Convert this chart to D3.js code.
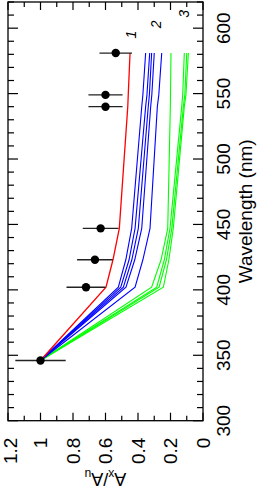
<!DOCTYPE html>
<html><head><meta charset="utf-8">
<script src="https://cdn.jsdelivr.net/npm/d3@7"></script>
<style>body{margin:0;background:#fff}svg{display:block}text{font-family:"Liberation Sans",Arial,sans-serif}</style>
</head><body>
<svg id="c" width="259" height="497"></svg>
<script>
// Observations: wavelength (nm), A_x/A_u, error
const obsWave = [346, 402, 423, 447, 540, 549, 581];
const obsVal  = [1.0, 0.72, 0.665, 0.63, 0.60, 0.60, 0.537];
const obsErr  = [0.155, 0.12, 0.11, 0.11, 0.105, 0.105, 0.10];
// Model curves sampled at band wavelengths
const modelWave = [346, 402, 423, 447, 540, 549, 581];
const redCurve = [1.0, 0.597, 0.554, 0.515, 0.463, 0.46, 0.449];
const blueCurves = [
  [1.0, 0.521, 0.475, 0.439, 0.377, 0.370, 0.353],
  [1.0, 0.506, 0.455, 0.418, 0.353, 0.345, 0.328],
  [1.0, 0.490, 0.438, 0.398, 0.337, 0.330, 0.316],
  [1.0, 0.474, 0.420, 0.377, 0.322, 0.315, 0.300],
  [1.0, 0.418, 0.370, 0.326, 0.281, 0.272, 0.254]
];
const greenCurves = [
  [1.0, 0.316, 0.258, 0.217, 0.201, 0.200, 0.197],
  [1.0, 0.285, 0.238, 0.203, 0.131, 0.125, 0.115],
  [1.0, 0.270, 0.225, 0.192, 0.121, 0.112, 0.100],
  [1.0, 0.244, 0.210, 0.183, 0.115, 0.105, 0.090]
];
const groupLabels = ["1", "2", "3"];
const labelPos = [[595, 0.445], [603, 0.29], [611, 0.118]]; // wavelength, value
const valTicks = [1.2, 1.0, 0.8, 0.6, 0.4, 0.2, 0];
const valTickLabels = ["1.2", "1", "0.8", "0.6", "0.4", "0.2", "0"];
const waveTicks = [300, 350, 400, 450, 500, 550, 600];

const svg = d3.select("#c");
const L = 8, R = 203, T = 2, B = 420.7;
// Rotated chart: value on horizontal (1.2 left → 0 right), wavelength vertical
const x = d3.scaleLinear().domain([1.2, 0]).range([L, R]);
const y = d3.scaleLinear().domain([300, 620]).range([B, T]);

const g = svg.append("g");
const fs = 19;

const vMinor = d3.range(0, 12.01, 1).map(d => d / 10);
const wMinor = d3.range(300, 621, 10);
const tickG = g.append("g").attr("stroke", "#000").attr("stroke-width", 1.2);
vMinor.forEach(v => {
  const major = Math.abs(Math.round(v * 10) % 2) === 0;
  const len = major ? 8 : 5;
  tickG.append("line").attr("x1", x(v)).attr("x2", x(v)).attr("y1", B).attr("y2", B - len);
  tickG.append("line").attr("x1", x(v)).attr("x2", x(v)).attr("y1", T).attr("y2", T + len);
});
wMinor.forEach(w => {
  const major = w % 50 === 0;
  const len = major ? 10 : 6;
  tickG.append("line").attr("y1", y(w)).attr("y2", y(w)).attr("x1", R).attr("x2", R - len);
  tickG.append("line").attr("y1", y(w)).attr("y2", y(w)).attr("x1", L).attr("x2", L + len);
});

valTicks.forEach((v, i) => {
  const xx = Math.max(x(v), 10.5);
  g.append("text").attr("transform", `translate(${xx},${B + 17}) rotate(-90)`)
    .attr("text-anchor", "end").attr("dy", "0.36em").attr("font-size", fs)
    .text(valTickLabels[i]);
});
waveTicks.forEach(w => {
  g.append("text").attr("transform", `translate(230,${y(w)}) rotate(-90)`)
    .attr("text-anchor", "middle").attr("font-size", fs).text(w);
});
g.append("text").attr("transform", `translate(252,${(T + B) / 2}) rotate(-90)`)
  .attr("text-anchor", "middle").attr("font-size", fs).text("Wavelength (nm)");
const yt = g.append("text").attr("transform", `translate(${(L + R) / 2},473) rotate(180)`)
  .attr("text-anchor", "middle").attr("font-size", 18);
yt.append("tspan").text("A");
yt.append("tspan").attr("baseline-shift", "-2.5").attr("font-size", 12).text("x");
yt.append("tspan").text("/A");
yt.append("tspan").attr("baseline-shift", "-2.5").attr("font-size", 12).text("u");

const line = d3.line().x(d => x(d[1])).y(d => y(d[0]));
const pts = arr => modelWave.map((w, i) => [w, arr[i]]);
greenCurves.forEach(c => g.append("path").attr("d", line(pts(c))).attr("fill", "none").attr("stroke", "#00ff00").attr("stroke-width", 1.1));
blueCurves.forEach(c => g.append("path").attr("d", line(pts(c))).attr("fill", "none").attr("stroke", "#0000ff").attr("stroke-width", 1.1));
g.append("path").attr("d", line(pts(redCurve))).attr("fill", "none").attr("stroke", "#ff0000").attr("stroke-width", 1.3);

groupLabels.forEach((t, i) => {
  g.append("text").attr("transform", `translate(${x(labelPos[i][1])},${y(labelPos[i][0])}) rotate(-90)`)
    .attr("text-anchor", "middle").attr("dy", "0.35em").attr("font-size", 14).attr("font-style", "italic").text(t);
});

obsWave.forEach((w, i) => {
  g.append("line").attr("x1", x(obsVal[i] + obsErr[i])).attr("x2", x(obsVal[i] - obsErr[i]))
    .attr("y1", y(w)).attr("y2", y(w)).attr("stroke", "#222").attr("stroke-width", 1.3);
  g.append("circle").attr("cx", x(obsVal[i])).attr("cy", y(w)).attr("r", 4.2).attr("fill", "#000");
});

g.append("rect").attr("x", L).attr("y", T).attr("width", R - L).attr("height", B - T)
  .attr("fill", "none").attr("stroke", "#000").attr("stroke-width", 1.3);
</script>
</body></html>
